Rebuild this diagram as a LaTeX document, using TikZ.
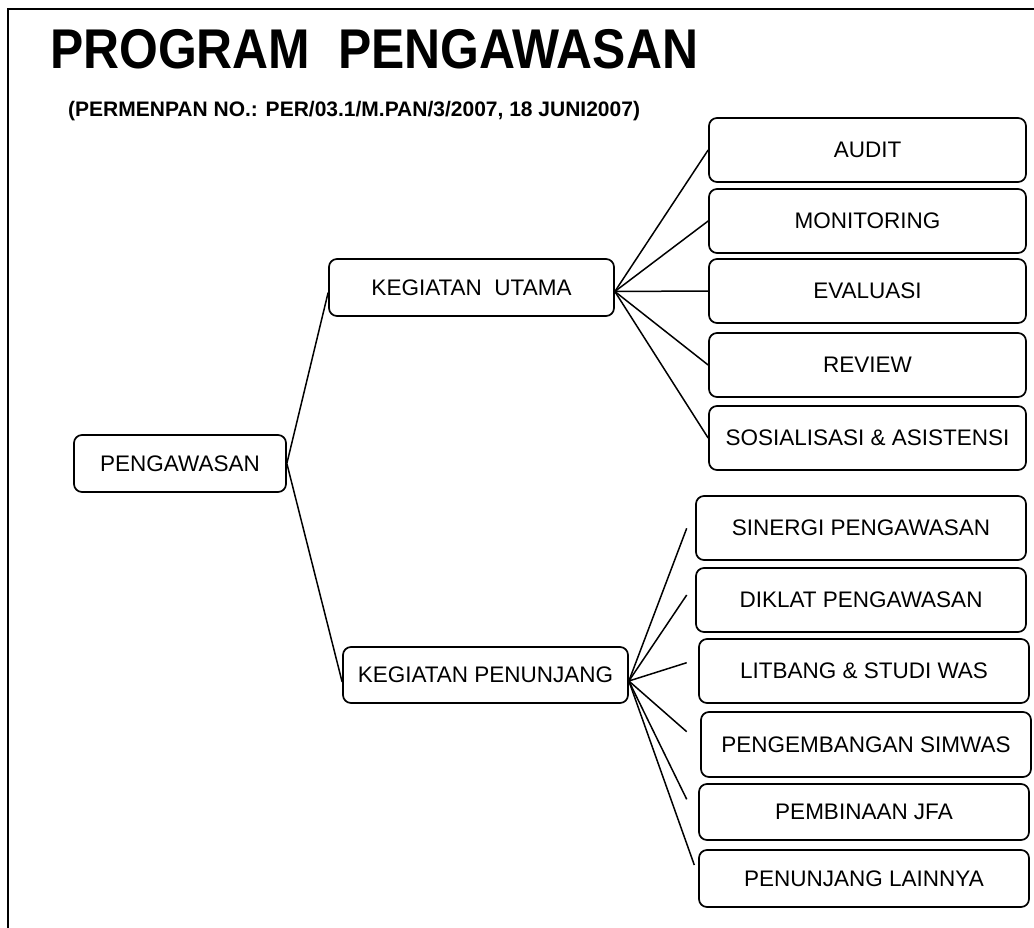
\documentclass[tikz,border=0pt]{standalone}
\usepackage{fontspec}
\setmainfont{Liberation Sans}
\usepackage{graphicx}
\begin{document}
\begin{tikzpicture}[x=1pt,y=-1pt,
  box/.style={draw, line width=1.7pt, rounded corners=8pt, inner sep=0pt,
    font=\fontsize{22.5}{27}\selectfont, align=center},
  conn/.style={line width=1.5pt},
  frame/.style={line width=1.8pt}]
\useasboundingbox (0,0) rectangle (1034,928);
\clip (0,0) rectangle (1034,928);
\draw[frame] (8,9) rectangle (1060,960);

\node[anchor=base west, inner sep=0pt, font=\fontsize{56}{60}\bfseries] (title) at (50,69)
  {\scalebox{0.89}[1]{PROGRAM\ \ PENGAWASAN}};
\node[anchor=base west, inner sep=0pt, font=\fontsize{21}{24}\bfseries] (sub) at (68,117)
  {(PERMENPAN NO.: PER/03.1/M.PAN/3/2007, 18 JUNI2007)};

\node[box, minimum width=212pt, minimum height=57pt] (peng) at (180,463.5) {PENGAWASAN};
\node[box, minimum width=285pt, minimum height=57pt] (ku) at (471.5,287.5) {KEGIATAN\ \ UTAMA};
\node[box, minimum width=285pt, minimum height=56pt] (kp) at (485.5,675) {KEGIATAN PENUNJANG};

\node[box, minimum width=317pt, minimum height=64pt] (audit) at (867.5,150) {AUDIT};
\node[box, minimum width=317pt, minimum height=64pt] (moni) at (867.5,221) {MONITORING};
\node[box, minimum width=317pt, minimum height=64pt] (eval) at (867.5,291) {EVALUASI};
\node[box, minimum width=317pt, minimum height=64pt] (rev) at (867.5,365) {REVIEW};
\node[box, minimum width=317pt, minimum height=64pt] (sos) at (867.5,438) {SOSIALISASI \& ASISTENSI};

\node[box, minimum width=330pt, minimum height=64pt] (sin) at (861,528) {SINERGI PENGAWASAN};
\node[box, minimum width=330pt, minimum height=64pt] (dik) at (861,600) {DIKLAT PENGAWASAN};
\node[box, minimum width=330pt, minimum height=64pt] (lit) at (864,671) {LITBANG \& STUDI WAS};
\node[box, minimum width=330pt, minimum height=65pt] (pgb) at (866,744.5) {PENGEMBANGAN SIMWAS};
\node[box, minimum width=330pt, minimum height=56pt] (pemb) at (864,812) {PEMBINAAN JFA};
\node[box, minimum width=330pt, minimum height=57pt] (pl) at (864,878.5) {PENUNJANG LAINNYA};

\coordinate (kuL) at ([yshift=-5pt]ku.west);
\coordinate (kpL) at ([yshift=-7pt]kp.west);
\coordinate (kuR) at ([yshift=-4pt]ku.east);
\coordinate (kpR) at ([yshift=-6pt]kp.east);
\coordinate (e1) at (686.7,528.3);
\coordinate (e2) at (686.7,595);
\coordinate (e3) at (686.7,662.7);
\coordinate (e4) at (686.7,731.7);
\coordinate (e5) at (686.7,799.3);
\coordinate (e6) at (694.3,865);

\draw[conn] (peng.east) -- (kuL);
\draw[conn] (peng.east) -- (kpL);
\foreach \t in {audit,moni,eval,rev,sos} \draw[conn] (kuR) -- (\t.west);
\foreach \t in {e1,e2,e3,e4,e5,e6} \draw[conn] (kpR) -- (\t);
\end{tikzpicture}
\end{document}
